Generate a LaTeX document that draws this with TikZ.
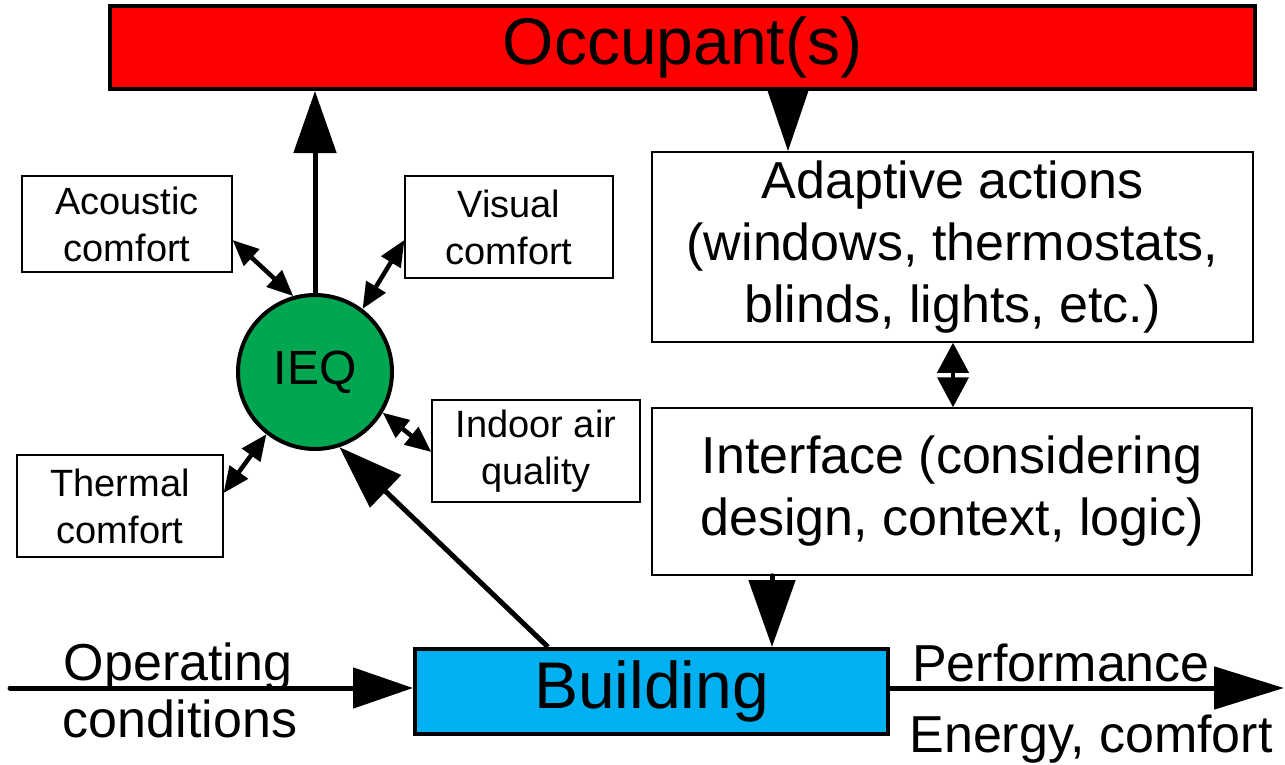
\documentclass[tikz,border=0pt]{standalone}
\usepackage{fontspec}
\setmainfont{Liberation Sans}
\usetikzlibrary{arrows.meta,calc}

\definecolor{occred}{RGB}{255,0,0}
\definecolor{ieqgreen}{RGB}{0,166,80}
\definecolor{bldblue}{RGB}{0,176,240}

\newcommand{\bigfont}{\fontsize{66}{72}\selectfont}
\newcommand{\midfont}{\fontsize{52}{62}\selectfont}
\newcommand{\smallfont}{\fontsize{38}{47}\selectfont}

\tikzset{
  thickbox/.style={draw=black, line width=4pt, inner sep=0pt, align=center},
  thinbox/.style={draw=black, line width=1.5pt, fill=white, inner sep=0pt, align=center, font=\midfont},
  smallbox/.style={draw=black, line width=1.2pt, fill=white, inner sep=0pt, align=center, font=\smallfont},
  flow/.style={line width=5pt, line cap=round, -{Triangle[length=62pt,width=42pt]}},
  headonly/.style={line width=5pt, -{Triangle[length=64pt,width=42pt]}},
  twoway/.style={line width=4pt, {Triangle[length=30pt,width=31pt]}-{Triangle[length=30pt,width=31pt]}},
  smalltwoway/.style={line width=4.5pt, {Triangle[length=26pt,width=22pt]}-{Triangle[length=26pt,width=22pt]}},
  flowlabel/.style={font=\midfont, anchor=base, inner sep=0pt},
}

\begin{document}
\begin{tikzpicture}[x=1pt, y=-1pt]
  \useasboundingbox (0,0) rectangle (1285,764);

  % main boxes
  \node[thickbox, fill=occred, minimum width=1145pt, minimum height=83pt, font=\bigfont] (occ) at (682.5,47.5) {Occupant(s)};
  \node[thinbox, minimum width=601pt, minimum height=190pt] (adapt) at (952.5,247) {Adaptive actions\\(windows, thermostats,\\blinds, lights, etc.)};
  \node[thinbox, minimum width=600pt, minimum height=167pt] (intf) at (952,491.5) {Interface (considering\\design, context, logic)};
  \node[thickbox, fill=bldblue, minimum width=473pt, minimum height=85pt, font=\bigfont] (bld) at (651.5,691.5) {Building};

  % indoor environmental quality and its aspects
  \node[circle, draw=black, line width=4pt, fill=ieqgreen, minimum size=154pt, inner sep=0pt, font=\fontsize{48}{56}\selectfont] (ieq) at (315,372) {IEQ};
  \node[smallbox, minimum width=210pt, minimum height=96pt] (ac) at (127,224) {Acoustic\\comfort};
  \node[smallbox, minimum width=208pt, minimum height=102pt] (vis) at (509,227) {Visual\\comfort};
  \node[smallbox, minimum width=208pt, minimum height=102pt] (iaq) at (536,451) {Indoor air\\quality};
  \node[smallbox, minimum width=206pt, minimum height=102pt] (th) at (120,506) {Thermal\\comfort};

  % free ends of the flows
  \coordinate (inflow) at (10,688);
  \coordinate (outflow) at (1284,688);
  \coordinate (drop) at ($(intf.south)+(-180,0)$);
  \coordinate (rise) at ($(bld.north west)+(135,0)$);

  % connectors
  \draw[headonly] (occ.south -| 788,0) -- (adapt.north -| 788,0);
  \draw[twoway] (adapt.south -| 953,0) -- (intf.north -| 953,0);
  \draw[line width=5pt, line cap=round, -{Triangle[length=67pt,width=46pt]}] (drop) -- (bld.north -| drop);
  \draw[flow] (ieq.north) -- (occ.south -| ieq.north);
  \draw[line width=5pt, -{Triangle[length=64pt,width=44pt]}] (rise) -- (ieq.-72);
  \draw[line width=5pt, line cap=round, -{Triangle[length=60pt,width=40pt]}] (inflow) -- (bld.west |- inflow);
  \draw[line width=5pt, -{Triangle[length=70pt,width=42pt]}] (bld.east |- outflow) -- (outflow);

  \draw[smalltwoway] ($(ac.east)+(0,16)$) -- (ieq.106);
  \draw[smalltwoway] ($(vis.west)+(0,13)$) -- (ieq.53);
  \draw[smalltwoway] ($(iaq.west)+(0,1)$) -- (ieq.-31);
  \draw[smalltwoway] ($(th.east)+(0,-13)$) -- (ieq.232);

  % flow labels
  \node[flowlabel] (oplbl) at (178,680) {Operating};
  \node[flowlabel] (condlbl) at (180,737) {conditions};
  \node[flowlabel] (perflbl) at (1061,681) {Performance};
  \node[flowlabel] (enlbl) at (1091,752) {Energy, comfort};
\end{tikzpicture}
\end{document}
